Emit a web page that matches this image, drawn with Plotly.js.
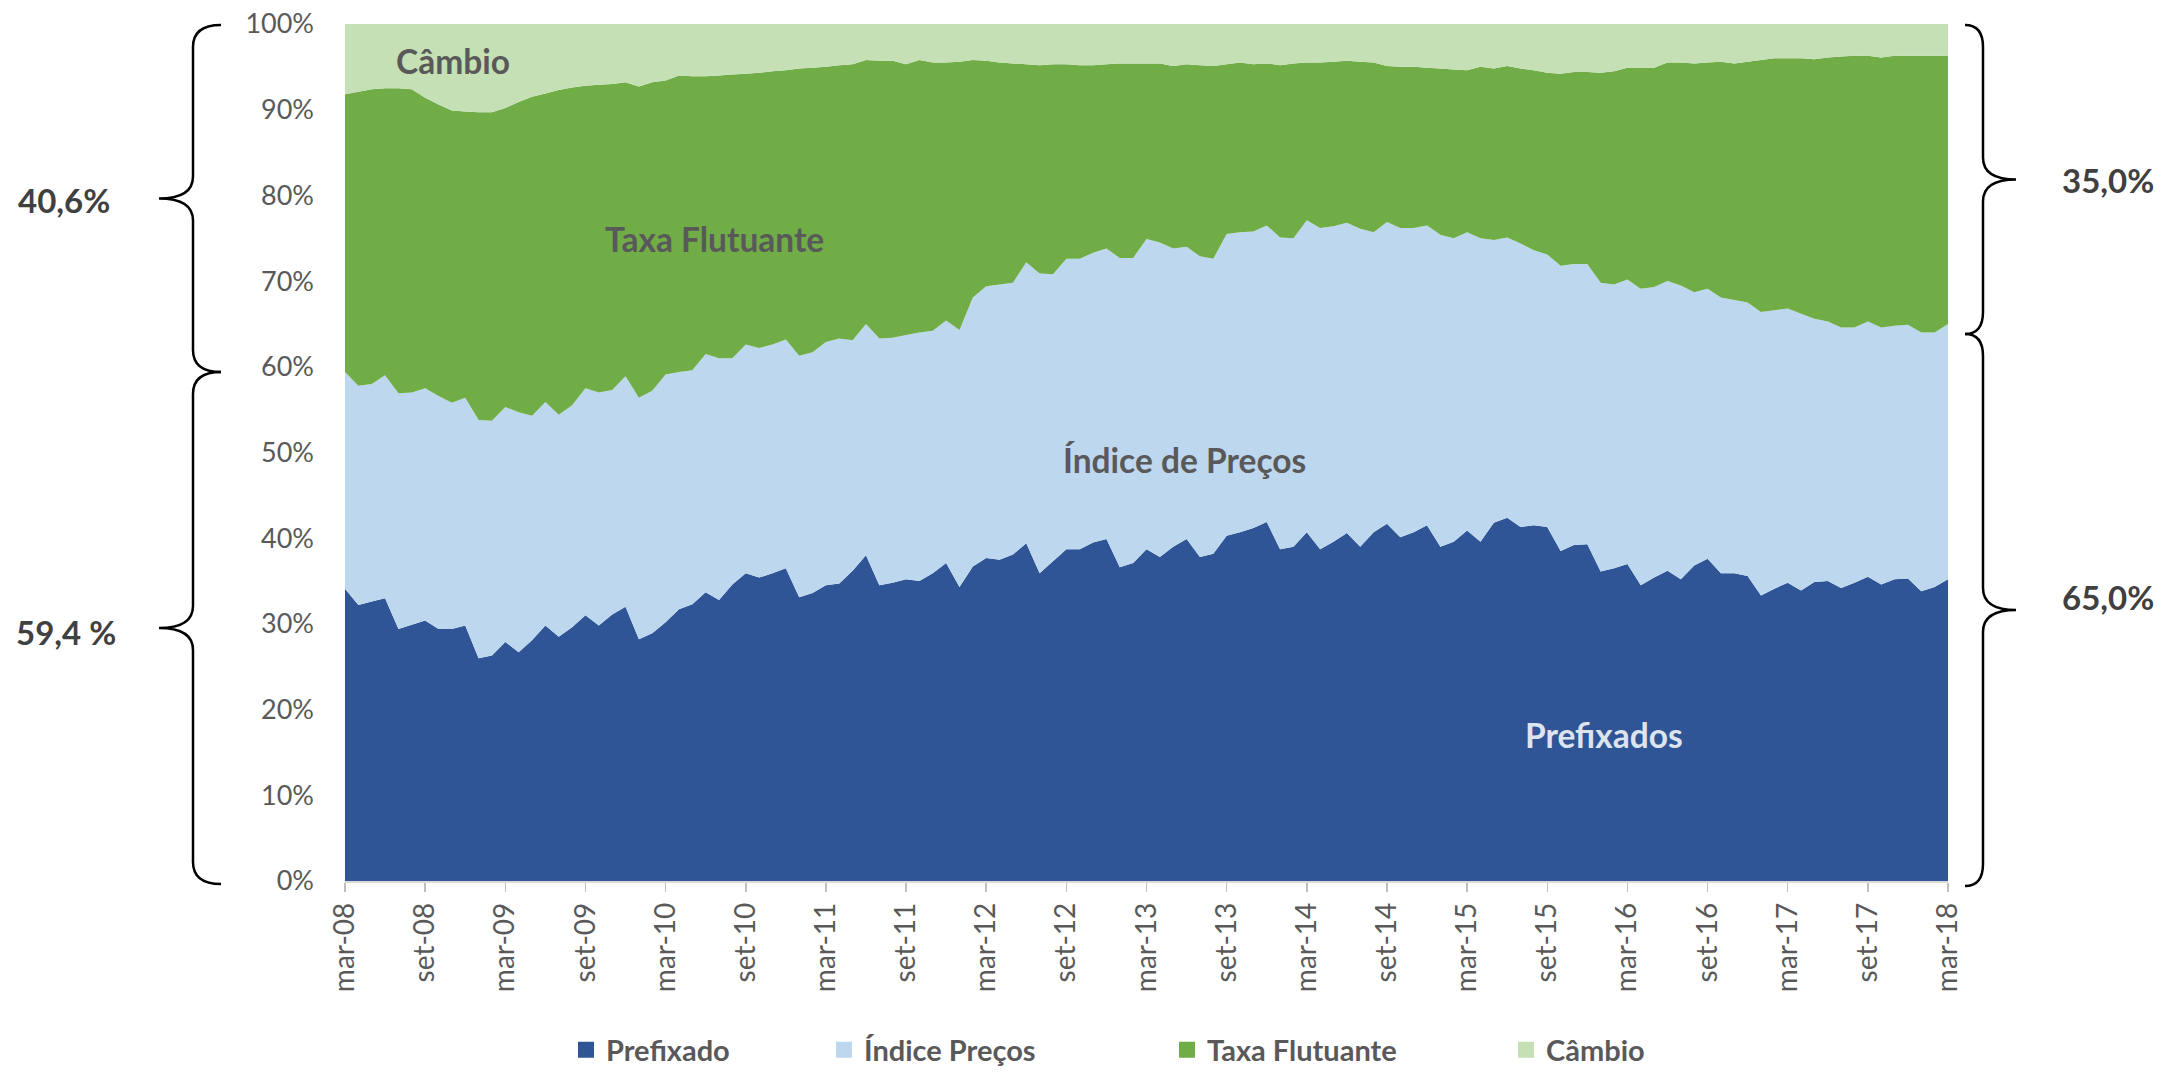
<!DOCTYPE html>
<html>
<head>
<meta charset="utf-8">
<script src="https://cdn.plot.ly/plotly-3.0.1.min.js"></script>
<style>
  html, body { margin: 0; padding: 0; background: #ffffff; }
  #chart { width: 2167px; height: 1073px; }
</style>
</head>
<body>
<div id="chart"></div>
<script>
// ---------- DATA (monthly shares, mar-08 .. mar-18, %) ----------
const monthAbbr = ['jan','fev','mar','abr','mai','jun','jul','ago','set','out','nov','dez'];

const prefixado = [
  34.1, 32.2, 32.6, 33.0, 29.4, 29.9, 30.4, 29.4, 29.4, 29.8,
  26.0, 26.3, 27.9, 26.7, 28.1, 29.8, 28.5, 29.6, 31.0, 29.8,
  31.1, 32.0, 28.2, 28.9, 30.2, 31.7, 32.3, 33.7, 32.8, 34.6,
  35.9, 35.4, 35.9, 36.5, 33.1, 33.6, 34.5, 34.7, 36.2, 38.0,
  34.5, 34.8, 35.2, 35.0, 35.9, 37.1, 34.3, 36.7, 37.7, 37.5,
  38.1, 39.4, 35.9, 37.3, 38.7, 38.7, 39.5, 39.9, 36.6, 37.1,
  38.7, 37.8, 39.0, 39.9, 37.8, 38.2, 40.3, 40.7, 41.2, 41.9,
  38.7, 39.0, 40.7, 38.7, 39.6, 40.6, 39.0, 40.7, 41.7, 40.1,
  40.7, 41.5, 39.0, 39.6, 40.9, 39.6, 41.8, 42.4, 41.3, 41.5,
  41.3, 38.5, 39.2, 39.3, 36.1, 36.5, 37.0, 34.5, 35.4, 36.2,
  35.2, 36.8, 37.6, 35.9, 35.9, 35.6, 33.3, 34.1, 34.8, 33.9,
  34.9, 35.0, 34.2, 34.8, 35.5, 34.6, 35.2, 35.3, 33.8, 34.3, 35.2
];

const indicePrecos = [
  25.3, 25.6, 25.4, 26.0, 27.5, 27.1, 27.1, 27.2, 26.4, 26.6,
  27.8, 27.4, 27.4, 28.0, 26.2, 26.1, 25.9, 25.9, 26.5, 27.2,
  26.2, 26.9, 28.2, 28.3, 28.9, 27.7, 27.3, 27.8, 28.2, 26.4,
  26.7, 26.8, 26.7, 26.7, 28.2, 28.1, 28.4, 28.6, 26.9, 27.0,
  28.8, 28.6, 28.5, 29.0, 28.3, 28.3, 30.0, 31.4, 31.7, 32.1,
  31.7, 32.8, 35.0, 33.5, 33.9, 33.9, 33.8, 33.9, 36.1, 35.6,
  36.2, 36.7, 34.8, 34.1, 35.1, 34.4, 35.2, 35.0, 34.6, 34.6,
  36.4, 36.0, 36.4, 37.5, 36.8, 36.2, 37.1, 35.0, 35.2, 36.1,
  35.5, 35.0, 36.4, 35.4, 34.8, 35.4, 33.0, 32.7, 33.1, 32.1,
  31.8, 33.3, 32.8, 32.7, 33.7, 33.1, 33.2, 34.6, 33.9, 33.8,
  34.3, 31.9, 31.5, 32.2, 31.9, 31.9, 33.1, 32.5, 32.0, 32.3,
  30.7, 30.3, 30.4, 29.8, 29.8, 30.0, 29.6, 29.6, 30.2, 29.7, 29.8
];

const taxaFlutuante = [
  32.4, 34.3, 34.4, 33.5, 35.6, 35.4, 33.9, 34.0, 34.1, 33.4,
  35.9, 36.0, 34.9, 36.2, 37.2, 36.0, 37.9, 37.1, 35.3, 35.9,
  35.7, 34.3, 36.3, 36.0, 34.3, 34.6, 34.3, 32.4, 33.0, 33.1,
  31.6, 32.1, 31.9, 31.4, 33.5, 33.2, 32.1, 31.9, 32.2, 30.8,
  32.4, 32.3, 31.6, 31.8, 31.3, 30.1, 31.3, 27.7, 26.3, 25.9,
  25.6, 23.1, 24.3, 24.5, 22.7, 22.6, 21.9, 21.5, 22.7, 22.7,
  20.5, 20.9, 21.3, 21.3, 22.3, 22.5, 19.8, 19.8, 19.5, 18.9,
  20.1, 20.4, 18.4, 19.3, 19.2, 18.9, 19.5, 19.8, 18.2, 18.8,
  18.8, 18.4, 19.4, 19.7, 18.9, 20.0, 20.0, 20.0, 20.4, 21.0,
  21.2, 22.4, 22.4, 22.4, 24.5, 24.9, 24.7, 25.8, 25.6, 25.5,
  26.0, 26.7, 26.4, 27.5, 27.6, 28.1, 29.4, 29.4, 29.2, 29.8,
  30.3, 30.8, 31.6, 31.7, 31.0, 31.5, 31.5, 31.4, 32.3, 32.3, 31.3
];

const cambio = [
  8.2, 7.9, 7.6, 7.5, 7.5, 7.6, 8.6, 9.4, 10.1, 10.2,
  10.3, 10.3, 9.8, 9.1, 8.5, 8.1, 7.7, 7.4, 7.2, 7.1,
  7.0, 6.8, 7.3, 6.8, 6.6, 6.0, 6.1, 6.1, 6.0, 5.9,
  5.8, 5.7, 5.5, 5.4, 5.2, 5.1, 5.0, 4.8, 4.7, 4.2,
  4.3, 4.3, 4.7, 4.2, 4.5, 4.5, 4.4, 4.2, 4.3, 4.5,
  4.6, 4.7, 4.8, 4.7, 4.7, 4.8, 4.8, 4.7, 4.6, 4.6,
  4.6, 4.6, 4.9, 4.7, 4.8, 4.9, 4.7, 4.5, 4.7, 4.6,
  4.8, 4.6, 4.5, 4.5, 4.4, 4.3, 4.4, 4.5, 4.9, 5.0,
  5.0, 5.1, 5.2, 5.3, 5.4, 5.0, 5.2, 4.9, 5.2, 5.4,
  5.7, 5.8, 5.6, 5.6, 5.7, 5.5, 5.1, 5.1, 5.1, 4.5,
  4.5, 4.6, 4.5, 4.4, 4.6, 4.4, 4.2, 4.0, 4.0, 4.0,
  4.1, 3.9, 3.8, 3.7, 3.7, 3.9, 3.7, 3.7, 3.7, 3.7, 3.7
];

const tickLabels = ['mar-08','set-08','mar-09','set-09','mar-10','set-10','mar-11','set-11',
  'mar-12','set-12','mar-13','set-13','mar-14','set-14','mar-15','set-15','mar-16','set-16',
  'mar-17','set-17','mar-18'];
const yTickVals = [0, 10, 20, 30, 40, 50, 60, 70, 80, 90, 100];

const seriesNames = ['Prefixado', 'Índice Preços', 'Taxa Flutuante', 'Câmbio'];
const seriesColors = ['#2F5597', '#BDD7EE', '#70AD47', '#C5E0B4'];

// month categories mar-08 ... mar-18
const months = prefixado.map((_, i) => {
  const m = 2 + i;
  return monthAbbr[m % 12] + '-' + String(8 + Math.floor(m / 12)).padStart(2, '0');
});

// ---------- LAYOUT HELPERS ----------
const W = 2167, H = 1073;
const ML = 345, MR = 219, MT = 24, MB = 192;
const PW = W - ML - MR, PH = H - MT - MB;
const px2x = px => (px - ML) / PW;
const px2y = py => (H - MB - py) / PH;

const FONT = "Lato, 'Open Sans', 'DejaVu Sans', sans-serif";
const GREY = '#595959';

function brace(xEnd, xStem, xTip, yTop, yBot, r) {
  const yMid = (yTop + yBot) / 2;
  const P = (x, y) => px2x(x).toFixed(5) + ',' + px2y(y).toFixed(5);
  return 'M' + P(xEnd, yTop) +
    ' Q' + P(xStem, yTop) + ' ' + P(xStem, yTop + r) +
    ' L' + P(xStem, yMid - r) +
    ' Q' + P(xStem, yMid) + ' ' + P(xTip, yMid) +
    ' Q' + P(xStem, yMid) + ' ' + P(xStem, yMid + r) +
    ' L' + P(xStem, yBot - r) +
    ' Q' + P(xStem, yBot) + ' ' + P(xEnd, yBot);
}

// ---------- TRACES ----------
const values = [prefixado, indicePrecos, taxaFlutuante, cambio];
const traces = values.map((v, k) => ({
  type: 'scatter',
  x: months,
  y: v,
  name: seriesNames[k],
  stackgroup: 'one',
  mode: 'none',
  fillcolor: seriesColors[k],
  showlegend: false,
  hoverinfo: 'skip'
}));

const legendIds = ['legend', 'legend2', 'legend3', 'legend4'];
seriesNames.forEach((n, k) => {
  traces.push({
    type: 'scatter',
    x: [null],
    y: [null],
    name: n,
    mode: 'markers',
    marker: { symbol: 'square', size: 18, color: seriesColors[k] },
    showlegend: true,
    legend: legendIds[k],
    hoverinfo: 'skip'
  });
});

// legend marker centres (px)
const legendMarkerX = [586, 844, 1187, 1526];
const legendCenterY = 1050;

const layout = {
  width: W,
  height: H,
  margin: { l: ML, r: MR, t: MT, b: MB, pad: 0, autoexpand: false },
  paper_bgcolor: '#ffffff',
  plot_bgcolor: '#ffffff',
  font: { family: FONT, color: GREY },
  xaxis: {
    type: 'category',
    range: [0, months.length - 1],
    tickmode: 'array',
    tickvals: tickLabels,
    ticktext: tickLabels,
    tickangle: -90,
    ticks: 'outside',
    ticklen: 9,
    tickwidth: 1.5,
    tickcolor: '#BFBFBF',
    showline: true,
    linecolor: '#D9D9D9',
    linewidth: 1.5,
    showgrid: false,
    zeroline: false,
    tickfont: { family: FONT, size: 28, color: GREY },
    fixedrange: true
  },
  yaxis: {
    range: [0, 100],
    tickmode: 'array',
    tickvals: yTickVals,
    ticktext: yTickVals.map(v => v + '%'),
    ticks: '',
    ticklabelstandoff: 30,
    showline: false,
    showgrid: false,
    zeroline: false,
    tickfont: { family: FONT, size: 27, color: GREY },
    fixedrange: true
  },
  showlegend: true,
  annotations: [
    { text: 'Câmbio', x: px2x(453), y: px2y(61) },
    { text: 'Taxa Flutuante', x: px2x(714), y: px2y(239) },
    { text: 'Índice de Preços', x: px2x(1184), y: px2y(460) },
    { text: 'Prefixados', x: px2x(1604), y: px2y(735), color: '#DDE4EE' },
  ].map(a => ({
    text: '<b>' + a.text + '</b>', x: a.x, y: a.y, xref: 'paper', yref: 'paper',
    xanchor: 'center', yanchor: 'middle', showarrow: false,
    font: { family: FONT, size: 33.5, color: a.color || GREY }
  })).concat([
    { text: '40,6%', x: px2x(64), y: px2y(200) },
    { text: '59,4 %', x: px2x(66), y: px2y(632) },
    { text: '35,0%', x: px2x(2108), y: px2y(180) },
    { text: '65,0%', x: px2x(2108), y: px2y(597) },
  ].map(a => ({
    text: '<b>' + a.text + '</b>', x: a.x, y: a.y, xref: 'paper', yref: 'paper',
    xanchor: 'center', yanchor: 'middle', showarrow: false,
    font: { family: FONT, size: 33, color: '#404040' }
  }))),
  shapes: [
    brace(221, 193, 159, 25, 372, 22),
    brace(221, 193, 159, 372, 884, 22),
    brace(1965, 1983, 2016, 25, 334, 22),
    brace(1965, 1983, 2016, 334, 886, 22)
  ].map(p => ({
    type: 'path', path: p, xref: 'paper', yref: 'paper',
    line: { color: '#000000', width: 2.5 }, fillcolor: 'rgba(0,0,0,0)'
  }))
};

legendIds.forEach((id, k) => {
  layout[id] = {
    x: px2x(legendMarkerX[k] - 20),
    y: px2y(legendCenterY),
    xanchor: 'left',
    yanchor: 'middle',
    orientation: 'h',
    bgcolor: 'rgba(0,0,0,0)',
    borderwidth: 0,
    itemsizing: 'trace',
    font: { family: FONT, size: 29, color: GREY, weight: 'bold' }
  };
});

Plotly.newPlot('chart', traces, layout, { staticPlot: true, displayModeBar: false });
</script>
</body>
</html>
